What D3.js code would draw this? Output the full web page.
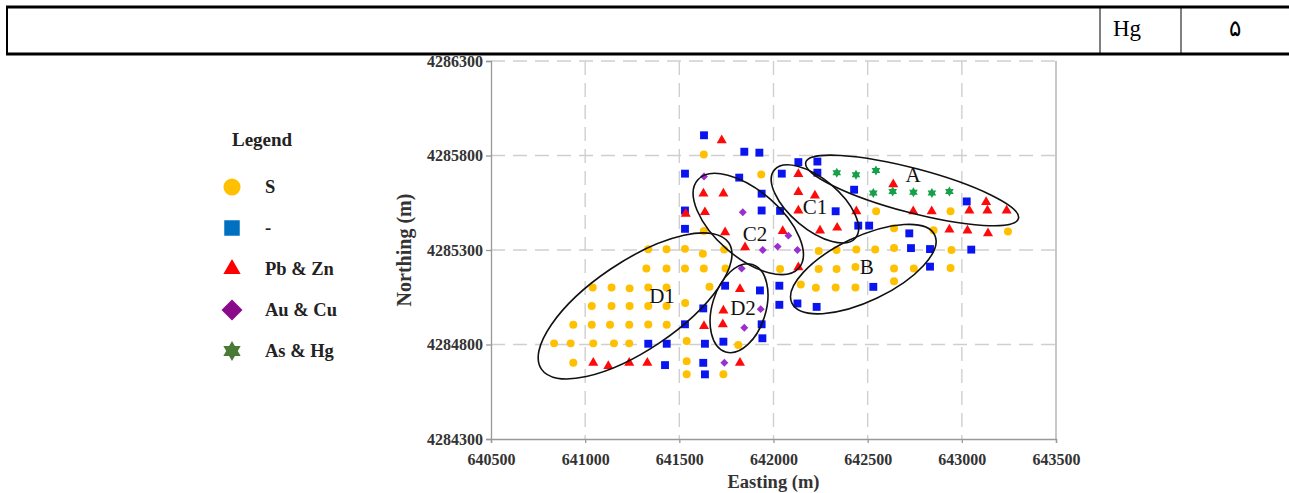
<!DOCTYPE html>
<html>
<head>
<meta charset="utf-8">
<script src="https://cdn.jsdelivr.net/npm/d3@7"></script>
<style>
  html, body { margin: 0; padding: 0; background: #fff; }
  svg { display: block; font-family: "Liberation Serif", "Times New Roman", serif; }
</style>
</head>
<body>
<div id="chart"></div>
<script>
// sample points, [easting, northing] in metres
const sPts = [
  [641630,4285805],[641935,4285700],[642545,4285505],[642940,4285505],[642640,4285415],
  [642850,4285405],[643245,4285398],[642240,4285295],[642335,4285300],[642440,4285303],
  [642540,4285303],[642640,4285310],[642945,4285300],[642240,4285200],[642335,4285200],
  [642435,4285210],[642640,4285202],[642745,4285202],[642940,4285205],[642145,4285118],
  [642225,4285100],[642330,4285102],[642435,4285102],[642640,4285135],[642035,4285200],
  [641630,4285400],[641738,4285302],[641335,4285304],[641432,4285304],[641530,4285306],
  [641625,4285280],[641325,4285202],[641432,4285202],[641530,4285202],[641630,4285202],
  [641745,4285202],[641040,4285102],[641140,4285102],[641236,4285097],[641335,4285102],
  [641432,4285102],[641660,4285105],[641035,4285004],[641140,4285004],[641236,4285004],
  [641335,4285004],[641432,4285004],[641531,4285020],[640937,4284904],[641035,4284904],
  [641132,4284904],[641234,4284904],[641335,4284906],[641433,4284904],[640835,4284806],
  [640923,4284806],[641043,4284806],[641153,4284806],[641234,4284806],[641539,4284818],
  [641813,4284797],[640937,4284703],[641539,4284712],[641539,4284642],[641734,4284642]
]
const blankPts = [
  [641631,4285907],[641845,4285820],[641925,4285815],[642132,4285765],[642233,4285768],
  [641530,4285704],[641818,4285683],[642044,4285704],[642233,4285709],[642428,4285619],
  [641937,4285598],[643026,4285557],[641530,4285509],[641937,4285509],[642035,4285507],
  [642330,4285505],[642450,4285429],[642508,4285429],[641530,4285412],[642721,4285388],
  [642730,4285310],[642831,4285305],[643050,4285302],[642831,4285212],[641743,4285111],
  [641928,4285086],[642031,4285111],[642530,4285105],[641627,4284991],[642031,4285010],
  [642127,4285017],[642229,4284999],[641937,4284907],[641530,4284907],[641335,4284804],
  [641433,4284804],[641636,4284804],[641734,4284815],[641941,4284833],[641424,4284691],
  [641627,4284703],[641636,4284642]
]
const pbznPts = [
  [641725,4285880],[642132,4285702],[642636,4285647],[643129,4285553],[641628,4285598],
  [641734,4285598],[642132,4285606],[642220,4285588],[641534,4285491],[641636,4285500],
  [642132,4285508],[642440,4285505],[642742,4285505],[642840,4285505],[643040,4285508],
  [643136,4285508],[643238,4285508],[641743,4285394],[642049,4285400],[642247,4285403],
  [642338,4285418],[642934,4285408],[643030,4285403],[643139,4285388],[641849,4285314],
  [642132,4285208],[641822,4285093],[641734,4284980],[641731,4284907],[641631,4284898],
  [641043,4284703],[641123,4284686],[641234,4284703],[641330,4284703],[641822,4284703]
]
const aucuPts = [
  [641631,4285689],[641837,4285500],[642079,4285376],[641943,4285300],[642022,4285318],
  [642127,4285300],[641831,4285202],[641932,4284987],[641845,4284889],[641739,4284703]
]
const ashgPts = [
  [642336,4285709],[642438,4285698],[642544,4285721],[642530,4285601],[642633,4285610],
  [642743,4285606],[642841,4285601],[642934,4285610]
]

// anomaly zones: centre, semi axes (m), tilt (deg), label point
const zones = [
  { name: 'A',  e: 642736, n: 4285615, ra: 584, rb: 117, tilt: 14.8,  le: 642741, ln: 4285695 },
  { name: 'C1', e: 642220, n: 4285544, ra: 281, rb: 133, tilt: 40,    le: 642220, ln: 4285526 },
  { name: 'C2', e: 641866, n: 4285438, ra: 356, rb: 175, tilt: 41,    le: 641902, ln: 4285387 },
  { name: 'B',  e: 642477, n: 4285199, ra: 420, rb: 170, tilt: -25.5, le: 642495, ln: 4285208 },
  { name: 'D1', e: 641265, n: 4285004, ra: 600, rb: 234, tilt: -34,   le: 641408, ln: 4285057 },
  { name: 'D2', e: 641817, n: 4284992, ra: 243, rb: 142, tilt: -73,   le: 641838, ln: 4284994 }
]

const xTicks = [640500, 641000, 641500, 642000, 642500, 643000, 643500]
const yTicks = [4284300, 4284800, 4285300, 4285800, 4286300]
const legendLabels = ['S', '-', 'Pb & Zn', 'Au & Cu', 'As & Hg']
const tableCells = ['Hg', '۵']

const W = 1289, H = 493
const plot = { left: 491, right: 1056, top: 61, bottom: 439 }

let svg = d3.select('#chart').append('svg')
  .attr('width', W).attr('height', H)

svg.append('rect').attr('width', W).attr('height', H).attr('fill', '#fff')

// header table strip
let tbl = svg.append('g')
tbl.append('line').attr('x1', 6).attr('x2', W).attr('y1', 7).attr('y2', 7)
  .attr('stroke', '#000').attr('stroke-width', 3)
tbl.append('line').attr('x1', 6).attr('x2', W).attr('y1', 54).attr('y2', 54)
  .attr('stroke', '#000').attr('stroke-width', 3)
tbl.append('line').attr('x1', 7).attr('x2', 7).attr('y1', 6).attr('y2', 55)
  .attr('stroke', '#000').attr('stroke-width', 2)
;[1100, 1181].forEach(function(cx) {
  tbl.append('line').attr('x1', cx).attr('x2', cx).attr('y1', 7).attr('y2', 54)
    .attr('stroke', '#000').attr('stroke-width', 1)
})
tbl.selectAll('text.cell').data(tableCells).enter().append('text')
  .attr('class', 'cell')
  .attr('x', function(d, i) { return 1127 + i * 108 })
  .attr('y', 36)
  .attr('text-anchor', 'middle')
  .attr('font-size', 23)
  .attr('fill', '#000')
  .text(function(d) { return d })

let x = d3.scaleLinear().domain([640500, 643500]).range([plot.left, plot.right])
let y = d3.scaleLinear().domain([4284300, 4286300]).range([plot.bottom, plot.top])

// grid
let grid = svg.append('g')
grid.selectAll('line.gx').data(xTicks.slice(1, -1)).enter().append('line')
  .attr('x1', d => x(d)).attr('x2', d => x(d))
  .attr('y1', plot.top).attr('y2', plot.bottom)
  .attr('stroke', '#cfcfcf').attr('stroke-width', 1.4).attr('stroke-dasharray', '14,8')
grid.selectAll('line.gy').data(yTicks.slice(1)).enter().append('line')
  .attr('x1', plot.left).attr('x2', plot.right)
  .attr('y1', d => y(d)).attr('y2', d => y(d))
  .attr('stroke', '#cfcfcf').attr('stroke-width', 1.4).attr('stroke-dasharray', '14,8')
grid.append('line')
  .attr('x1', plot.right).attr('x2', plot.right).attr('y1', plot.top).attr('y2', plot.bottom)
  .attr('stroke', '#aaa').attr('stroke-width', 1.3)

// axes
let yAxis = svg.append('g').attr('transform', 'translate(' + plot.left + ',0)')
  .call(d3.axisLeft(y).tickValues(yTicks).tickFormat(d3.format('d')).tickSize(5).tickPadding(3))
let xAxis = svg.append('g').attr('transform', 'translate(0,' + plot.bottom + ')')
  .call(d3.axisBottom(x).tickValues(xTicks).tickFormat(d3.format('d')).tickSize(4).tickPadding(11))
;[xAxis, yAxis].forEach(function(ax) {
  ax.select('.domain').attr('stroke', '#999').attr('stroke-width', 1.3)
  ax.selectAll('.tick line').attr('stroke', '#999').attr('stroke-width', 1.3)
  ax.selectAll('text')
    .attr('font-family', '"Liberation Serif", serif')
    .attr('font-weight', 'bold').attr('font-size', 16).attr('fill', '#333')
})

svg.append('text')
  .attr('x', (plot.left + plot.right) / 2).attr('y', 488)
  .attr('text-anchor', 'middle').attr('font-weight', 'bold').attr('font-size', 18.5)
  .attr('fill', '#333').text('Easting (m)')
svg.append('text')
  .attr('transform', 'translate(411,' + ((plot.top + plot.bottom) / 2) + ') rotate(-90)')
  .attr('text-anchor', 'middle').attr('font-weight', 'bold').attr('font-size', 20)
  .attr('fill', '#333').text('Northing (m)')

// six pointed star
function starPath(R) {
  let pts = []
  for (let k = 0; k < 12; k++) {
    let r = k % 2 === 0 ? R : R * 0.58
    let a = Math.PI / 6 * k - Math.PI / 2
    pts.push([r * Math.cos(a), r * Math.sin(a)])
  }
  return 'M' + pts.map(p => p.join(',')).join('L') + 'Z'
}

const series = [
  { pts: sPts,     sym: d3.symbolCircle,   size: 50, color: '#ffc000' },
  { pts: blankPts, sym: d3.symbolSquare,   size: 62, color: '#0a14f0' },
  { pts: pbznPts,  sym: d3.symbolTriangle, size: 44, color: '#ff0a0a' },
  { pts: aucuPts,  sym: d3.symbolDiamond2, size: 40, color: '#9a2fd0' },
  { pts: ashgPts,  sym: null,              size: 5,  color: '#16a04a' }
]

let marks = svg.append('g')
series.forEach(function(s) {
  marks.append('g').selectAll('path').data(s.pts).enter().append('path')
    .attr('transform', d => 'translate(' + x(d[0]) + ',' + y(d[1]) + ')')
    .attr('d', s.sym ? d3.symbol().type(s.sym).size(s.size)() : starPath(s.size))
    .attr('fill', s.color)
})

// anomaly ellipses
let zg = svg.append('g')
zones.forEach(function(z) {
  let cx = x(z.e), cy = y(z.n)
  zg.append('ellipse')
    .attr('cx', cx).attr('cy', cy)
    .attr('rx', x(z.e + z.ra) - cx).attr('ry', cy - y(z.n + z.rb))
    .attr('transform', 'rotate(' + z.tilt + ',' + cx + ',' + cy + ')')
    .attr('fill', 'none').attr('stroke', '#111').attr('stroke-width', 1.6)
  zg.append('text')
    .attr('x', x(z.le)).attr('y', y(z.ln))
    .attr('text-anchor', 'middle').attr('dominant-baseline', 'central')
    .attr('font-size', 21).attr('fill', '#111')
    .text(z.name)
})

// legend
let lg = svg.append('g')
lg.append('text').attr('x', 232).attr('y', 146)
  .attr('font-weight', 'bold').attr('font-size', 19).attr('fill', '#222').text('Legend')
const legendShapes = [
  { sym: d3.symbolCircle,   size: 230, color: '#ffc000' },
  { sym: d3.symbolSquare,   size: 240, color: '#0070c0' },
  { sym: d3.symbolTriangle, size: 130, color: '#ff0000' },
  { sym: d3.symbolDiamond2, size: 280, color: '#8b0a8b' },
  { sym: null,              size: 10,  color: '#4a7a35' }
]
let items = lg.selectAll('g.item').data(legendLabels).enter().append('g')
  .attr('transform', (d, i) => 'translate(232,' + (187 + i * 41) + ')')
items.append('path')
  .attr('d', (d, i) => legendShapes[i].sym ? d3.symbol().type(legendShapes[i].sym).size(legendShapes[i].size)() : starPath(legendShapes[i].size))
  .attr('fill', (d, i) => legendShapes[i].color)
items.append('text').attr('x', 33).attr('dy', '0.35em')
  .attr('font-weight', 'bold').attr('font-size', 18.5).attr('fill', '#222')
  .text(d => d)
</script>
</body>
</html>
